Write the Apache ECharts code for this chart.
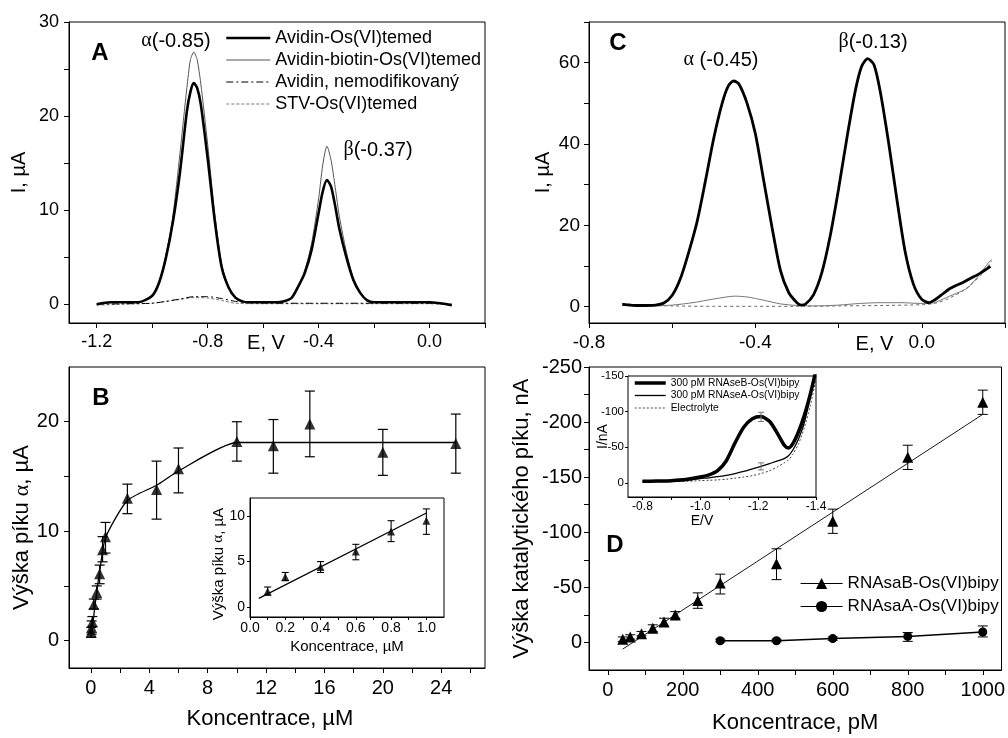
<!DOCTYPE html>
<html><head><meta charset="utf-8">
<script src="https://cdn.jsdelivr.net/npm/echarts@6/dist/echarts.min.js"></script>
<style>html,body{margin:0;padding:0;background:#fff}#c{width:1008px;height:738px}</style>
</head><body><div id="c"></div>
<script>
// ---------- Panel A : DPV curves ----------
const aE      = [-1.2,-1.15,-1.1,-1.05,-1.0,-0.975,-0.95,-0.925,-0.9,-0.875,-0.862,-0.85,-0.838,-0.825,-0.8,-0.775,-0.75,-0.725,-0.7,-0.675,-0.65,-0.6,-0.55,-0.5,-0.475,-0.45,-0.425,-0.4,-0.385,-0.37,-0.355,-0.34,-0.325,-0.3,-0.275,-0.25,-0.225,-0.2,-0.1,0.0,0.08];
const aThick  = [0.0,0.2,0.2,0.2,0.9,2.3,5.0,8.8,14.0,20.5,22.6,23.5,23.0,21.3,15.5,9.0,4.0,1.8,0.7,0.3,0.2,0.2,0.2,0.6,1.8,3.3,5.8,9.7,12.0,13.2,12.5,10.4,8.0,5.0,2.6,1.2,0.4,0.2,0.2,0.2,-0.1];
const aThin   = [0.0,0.2,0.2,0.2,0.9,2.4,5.3,9.5,16.0,23.0,26.0,26.8,26.0,23.5,17.0,9.8,4.3,1.9,0.7,0.3,0.2,0.2,0.2,0.6,1.9,3.6,6.5,11.2,14.8,16.8,15.3,12.4,9.3,5.6,2.8,1.3,0.4,0.2,0.2,0.2,-0.1];
const aDdE    = [-1.2,-1.1,-1.0,-0.95,-0.9,-0.85,-0.8,-0.75,-0.7,-0.65,-0.6,-0.5,-0.4,-0.3,-0.2,-0.1,0.0,0.08];
const aDd     = [0.0,0.05,0.1,0.3,0.55,0.8,0.8,0.6,0.3,0.15,0.12,0.1,0.1,0.1,0.1,0.1,0.1,0.0];
const aDotE   = [-1.2,-1.1,-1.0,-0.95,-0.9,-0.85,-0.8,-0.75,-0.7,-0.6,-0.4,-0.2,0.0,0.08];
const aDot    = [-0.1,0.0,0.1,0.3,0.5,0.7,0.65,0.4,0.1,0.05,0.05,0.05,0.05,-0.1];
const aNames  = ['Avidin-Os(VI)temed','Avidin-biotin-Os(VI)temed','Avidin, nemodifikovaný','STV-Os(VI)temed'];
const aXLabels = [-1.2,-0.8,-0.4,0.0];
const aXTicks  = [-1.2,-1.0,-0.8,-0.6,-0.4,-0.2,0.0,0.2];
const aYLabels = [0,10,20,30];
const aYTicks  = [0,5,10,15,20,25,30];

// ---------- Panel B : calibration ----------
const bConc  = [0.02,0.05,0.1,0.2,0.4,0.6,0.8,1.0,2.5,4.5,6,10,12.5,15,20,25];
const bPeak  = [0.8,1.2,1.7,3.3,4.4,6.1,8.3,9.5,13.0,13.8,15.7,18.2,17.8,19.8,17.2,18.0];
const bLo    = [0.3,0.6,1.3,2.9,3.8,5.2,7.2,8.0,11.6,11.1,13.5,16.4,15.3,16.8,15.1,15.3];
const bHi    = [1.2,1.8,2.2,3.8,5.0,6.9,9.5,10.8,14.3,16.4,17.6,20.0,20.2,22.8,19.3,20.7];
const bFitX  = [0.05,0.3,0.6,1.0,2.5,4.5,6,10,25];
const bFitY  = [0.6,3.4,6.3,9.4,12.8,14.2,15.5,18.1,18.1];
const bXLabels = [0,4,8,12,16,20,24];
const bXTicks  = [0,2,4,6,8,10,12,14,16,18,20,22,24,26];
const bYLabels = [0,10,20];
const bYTicks  = [0,5,10,15,20];
// inset B
const biConc = [0.1,0.2,0.4,0.6,0.8,1.0];
const biPeak = [1.7,3.3,4.4,6.1,8.3,9.5];
const biLo   = [1.3,2.9,3.8,5.2,7.2,8.0];
const biHi   = [2.2,3.8,5.0,6.9,9.5,10.8];
const biFitX = [0.05,1.0];
const biFitY = [0.95,10.35];
const biXLabels = [0,0.2,0.4,0.6,0.8,1.0];
const biXTicks  = [0,0.1,0.2,0.3,0.4,0.5,0.6,0.7,0.8,0.9,1.0];
const biYLabels = [0,5,10];

// ---------- Panel C ----------
const cE     = [-0.72,-0.68,-0.64,-0.62,-0.6,-0.58,-0.56,-0.54,-0.52,-0.5,-0.48,-0.465,-0.452,-0.44,-0.42,-0.4,-0.38,-0.36,-0.34,-0.32,-0.3,-0.29,-0.28,-0.26,-0.24,-0.22,-0.2,-0.18,-0.16,-0.145,-0.13,-0.115,-0.1,-0.08,-0.06,-0.04,-0.02,0.0,0.018,0.03,0.046,0.065,0.082,0.1,0.114,0.14,0.165];
const cThick = [0.6,0.3,0.4,0.9,2.8,7.0,13.5,21,31,41.5,50,54.3,55.5,54.8,50,42.5,31,19.5,9,3.5,1.0,0.4,0.6,3.0,8.5,17.5,29,41.5,53,59,61,59.5,53,40.5,26.5,13.5,5.5,1.8,1.0,1.6,2.8,4.3,5.2,6.0,6.8,8.2,9.9];
const cThinE = [-0.72,-0.65,-0.6,-0.55,-0.5,-0.45,-0.42,-0.38,-0.34,-0.3,-0.25,-0.2,-0.15,-0.1,-0.05,0.0,0.03,0.06,0.09,0.11,0.138,0.16,0.168];
const cThin  = [0.3,0.2,0.4,1.0,1.9,2.6,2.4,1.6,0.7,0.3,0.2,0.4,0.8,1.0,1.0,0.8,1.0,2.3,3.6,4.6,7.8,10.8,11.6];
const cDashE = [-0.72,-0.68,-0.6,-0.5,-0.4,-0.3,-0.2,-0.1,0.0,0.03,0.06,0.1,0.14,0.168];
const cDash  = [0.8,0.4,0.2,0.1,0.1,0.1,0.2,0.3,0.5,0.8,1.8,4.0,7.5,11.3];
const cXLabels = [-0.8,-0.4,0.0];
const cXTicks  = [-0.8,-0.6,-0.4,-0.2,0.0,0.2];
const cYLabels = [0,20,40,60];
const cYTicks  = [0,10,20,30,40,50,60,70];

// ---------- Panel D ----------
const dConcB = [40,60,90,120,150,180,240,300,450,600,800,1000];
const dPeakB = [-3,-5,-8,-13,-18.5,-25,-38,-54,-71.5,-110,-168,-218];
const dLoB   = [-1,-3,-6,-10,-15,-22,-31,-44,-57,-99,-157,-207];
const dHiB   = [-5,-7,-10,-16,-22,-28,-45,-62,-85,-121,-179,-229];
const dFitX  = [40,1000];
const dFitY  = [6,-207];
const dConcA = [300,450,600,800,1000];
const dPeakA = [-1.5,-1.5,-3.5,-5.5,-9.5];
const dLoA   = [-0.5,-0.5,-2,-1,-5];
const dHiA   = [-3,-3,-5,-9,-15];
const dNames = ['RNAsaB-Os(VI)bipy','RNAsaA-Os(VI)bipy'];
const dXLabels = [0,200,400,600,800,1000];
const dXTicks  = [0,100,200,300,400,500,600,700,800,900,1000];
const dYLabels = [-250,-200,-150,-100,-50,0];
const dYTicks  = [-250,-225,-200,-175,-150,-125,-100,-75,-50,-25,0];
// inset D
const diE  = [-0.8,-0.85,-0.9,-0.95,-1.0,-1.03,-1.06,-1.09,-1.12,-1.15,-1.18,-1.21,-1.24,-1.27,-1.29,-1.305,-1.32,-1.34,-1.36,-1.38,-1.4];
const diB  = [-2,-2.5,-3,-4.5,-8,-11,-17,-31,-56,-78,-90,-93,-86,-67,-53,-49,-55,-72,-95,-124,-158];
const diA  = [-2,-2.2,-2.5,-3.5,-6,-7,-8.5,-10.5,-13,-16,-19.5,-23,-27,-31,-34,-38,-46,-62,-85,-120,-158];
const diEl = [-1,-1.2,-1.5,-2,-3,-3.5,-4,-5,-6.5,-8,-10,-13,-17,-23,-28,-32,-40,-55,-78,-108,-145];
const diErrE  = [-1.21,-1.21];
const diErrLo = [-86,-18];
const diErrHi = [-99,-28];
const diNames = ['300 pM RNAseB-Os(VI)bipy','300 pM RNAseA-Os(VI)bipy','Electrolyte'];
const diXLabels = [-1.4,-1.2,-1.0,-0.8];
const diXTicks  = [-1.4,-1.3,-1.2,-1.1,-1.0,-0.9,-0.8];
const diYLabels = [-150,-100,-50,0];

// ---------- helpers ----------
const FF = "'Liberation Sans', Arial, sans-serif";
const zip = (xs, ys) => xs.map((x, i) => [x, ys[i]]);
const f1 = v => Number(v).toFixed(1);
const f0 = v => String(v);

function axis(gi, min, max, labels, ticks, fs, margin, extra) {
  return Object.assign({
    type: 'value', gridIndex: gi, min: min, max: max, nameMoveOverlap: false,
    axisLine: {show: true, onZero: false, lineStyle: {color: '#000', width: 1}},
    axisTick: {show: true, inside: false, length: 5, customValues: ticks, lineStyle: {color: '#000', width: 1}},
    axisLabel: {show: true, customValues: labels, color: '#000', fontSize: fs, fontFamily: FF, margin: margin, formatter: f0},
    splitLine: {show: false},
    nameTextStyle: {color: '#000', fontFamily: FF}
  }, extra || {});
}
function line(name, gi, xs, ys, width, color, type, extra) {
  return Object.assign({
    name: name, type: 'line', xAxisIndex: gi, yAxisIndex: gi, data: zip(xs, ys),
    symbol: 'none', smooth: 0.25, animation: false, silent: true,
    lineStyle: {width: width, color: color, type: type || 'solid'}, itemStyle: {color: color}, z: 2
  }, extra || {});
}
function errs(gi, xs, lo, hi, cap, color, lw) {
  return {
    type: 'custom', xAxisIndex: gi, yAxisIndex: gi, silent: true, animation: false, z: 3,
    data: xs.map((x, i) => [x, lo[i], hi[i]]), encode: {x: 0, y: [1, 2]},
    renderItem: function (p, api) {
      const a = api.coord([api.value(0), api.value(1)]);
      const b = api.coord([api.value(0), api.value(2)]);
      const st = {stroke: color, lineWidth: lw};
      return {type: 'group', children: [
        {type: 'line', shape: {x1: a[0], y1: a[1], x2: b[0], y2: b[1]}, style: st},
        {type: 'line', shape: {x1: a[0] - cap, y1: a[1], x2: a[0] + cap, y2: a[1]}, style: st},
        {type: 'line', shape: {x1: b[0] - cap, y1: b[1], x2: b[0] + cap, y2: b[1]}, style: st}
      ]};
    }
  };
}
function txt(x, y, text, size, bold, rich) {
  return {type: 'text', x: x, y: y, z: 50, silent: true,
    style: {text: text, fill: '#000', fontSize: size, fontFamily: 'Liberation Sans', fontWeight: bold ? 'bold' : 'normal',
      align: 'center', verticalAlign: 'middle', textAlign: 'center', textVerticalAlign: 'middle',
      rich: rich ? {a: {fontFamily: 'Liberation Serif', fontSize: size, fill: '#000'}} : undefined}};
}
const gridBox = {show: true, borderColor: '#000', borderWidth: 1, backgroundColor: '#fff', containLabel: false};
const alphaRich = fs => ({a: {fontFamily: 'Liberation Serif', fontSize: fs, color: '#000'}});
const hideSym = {opacity: 0, color: 'rgba(0,0,0,0)', borderWidth: 0};

const option = {
  backgroundColor: '#fff',
  animation: false,
  grid: [
    Object.assign({left: 69, top: 22, width: 416, height: 301}, gridBox),
    Object.assign({left: 69, top: 367, width: 416, height: 301}, gridBox),
    Object.assign({left: 250, top: 498, width: 194, height: 119}, gridBox),
    Object.assign({left: 589, top: 22, width: 416, height: 301}, gridBox),
    Object.assign({left: 589, top: 367, width: 413, height: 303}, gridBox),
    Object.assign({left: 628, top: 376, width: 188, height: 121}, gridBox, {z: 10})
  ],
  xAxis: [
    axis(0, -1.3, 0.2, aXLabels, aXTicks, 18, 10, {name: 'E, V', nameLocation: 'middle', nameGap: 10,
      axisLabel: {customValues: aXLabels, color: '#000', fontSize: 18, fontFamily: FF, margin: 10, formatter: f1},
      nameTextStyle: {fontSize: 20, fontFamily: FF, color: '#000', padding: [0, 22, 0, 0]}}),
    axis(1, -1.5, 27, bXLabels, bXTicks, 20, 10, {name: 'Koncentrace, µM', nameLocation: 'middle', nameGap: 40,
      nameTextStyle: {fontSize: 22, fontFamily: FF, color: '#000', padding: [0, 14, 0, 0]}}),
    axis(2, 0, 1.1, biXLabels, biXTicks, 14, 4, {name: 'Koncentrace, µM', nameLocation: 'middle', nameGap: 22,
      axisTick: {show: true, length: 3, customValues: biXTicks, lineStyle: {color: '#000'}},
      axisLabel: {customValues: biXLabels, color: '#000', fontSize: 14, fontFamily: FF, margin: 4, formatter: f1},
      nameTextStyle: {fontSize: 15, fontFamily: FF, color: '#000'}}),
    axis(3, -0.8, 0.2, cXLabels, cXTicks, 19, 10, {name: 'E, V', nameLocation: 'middle', nameGap: 11,
      axisLabel: {customValues: cXLabels, color: '#000', fontSize: 19, fontFamily: FF, margin: 10, formatter: f1},
      nameTextStyle: {fontSize: 20, fontFamily: FF, color: '#000', padding: [0, 0, 0, 155]}}),
    axis(4, -50, 1050, dXLabels, dXTicks, 20, 10, {name: 'Koncentrace, pM', nameLocation: 'middle', nameGap: 42,
      nameTextStyle: {fontSize: 22, fontFamily: FF, color: '#000'}}),
    axis(5, -1.4, -0.75, diXLabels, diXTicks, 12, 4, {inverse: true, name: 'E/V', nameLocation: 'middle', nameGap: 17,
      axisTick: {show: true, length: 3, customValues: diXTicks, lineStyle: {color: '#000'}},
      axisLabel: {customValues: diXLabels, color: '#000', fontSize: 12, fontFamily: FF, margin: 4, formatter: f1},
      nameTextStyle: {fontSize: 14, fontFamily: FF, color: '#000', padding: [0, 40, 0, 0]}})
  ],
  yAxis: [
    axis(0, -2, 30, aYLabels, aYTicks, 18, 10, {name: 'I, µA', nameLocation: 'middle', nameGap: 40,
      nameTextStyle: {fontSize: 20, fontFamily: FF, color: '#000'}}),
    axis(1, -2.5, 25, bYLabels, bYTicks, 20, 10, {name: 'Výška píku {a|α}, µA', nameLocation: 'middle', nameGap: 36,
      nameTextStyle: {fontSize: 22, fontFamily: FF, color: '#000', padding: [0, 20, 0, 0], rich: alphaRich(22)}}),
    axis(2, -1.1, 12, biYLabels, biYLabels, 14, 5, {name: 'Výška píku {a|α}, µA', nameLocation: 'middle', nameGap: 24,
      axisTick: {show: true, length: 3, customValues: biYLabels, lineStyle: {color: '#000'}},
      nameTextStyle: {fontSize: 15, fontFamily: FF, color: '#000', padding: [0, 13, 0, 0], rich: alphaRich(15)}}),
    axis(3, -4, 70, cYLabels, cYTicks, 19, 9, {name: 'I, µA', nameLocation: 'middle', nameGap: 36,
      nameTextStyle: {fontSize: 20, fontFamily: FF, color: '#000'}}),
    axis(4, -250, 25, dYLabels, dYTicks, 20, 7, {inverse: true, name: 'Výška katalytického píku, nA', nameLocation: 'middle', nameGap: 56,
      nameTextStyle: {fontSize: 22, fontFamily: FF, color: '#000'}}),
    axis(5, -150, 20, diYLabels, diYLabels, 11.5, 4, {inverse: true, name: 'I/nA', nameLocation: 'middle', nameGap: 18,
      axisTick: {show: true, length: 3, customValues: diYLabels, lineStyle: {color: '#000'}},
      nameTextStyle: {fontSize: 14, fontFamily: FF, color: '#000'}})
  ],
  legend: [
    {orient: 'vertical', left: 220, top: 24, itemWidth: 44, itemHeight: 12, itemGap: 4, selectedMode: false,
      itemStyle: hideSym, lineStyle: {width: 'inherit'},
      textStyle: {fontSize: 18, fontFamily: FF, color: '#000'}, data: aNames},
    {orient: 'vertical', left: 795, top: 570, itemWidth: 42, itemHeight: 14, itemGap: 6, selectedMode: false,
      lineStyle: {color: '#000', width: 1.2, opacity: 1, type: 'solid'},
      textStyle: {fontSize: 17, fontFamily: FF, color: '#000'}, data: dNames},
    {orient: 'vertical', left: 628, top: 373, itemWidth: 31, itemHeight: 8, itemGap: 2.5, selectedMode: false, z: 20,
      itemStyle: hideSym, lineStyle: {width: 'inherit'},
      textStyle: {fontSize: 10.3, fontFamily: FF, color: '#000'}, data: diNames}
  ],
  series: [
    // A
    line(aNames[3], 0, aDotE, aDot, 1, '#777', [3, 2]),
    line(aNames[2], 0, aDdE, aDd, 1, '#000', [7, 3, 2, 3]),
    line(aNames[1], 0, aE, aThin, 1, '#555'),
    line(aNames[0], 0, aE, aThick, 2.6, '#000'),
    // B main
    line('fitB', 1, bFitX, bFitY, 1.3, '#000', 'solid', {smooth: 0.2}),
    errs(1, bConc, bLo, bHi, 5, '#000', 1.2),
    {type: 'scatter', xAxisIndex: 1, yAxisIndex: 1, data: zip(bConc, bPeak), symbol: 'triangle', symbolSize: 11,
      itemStyle: {color: '#000'}, z: 4, silent: true, animation: false},
    // B inset
    line('fitBi', 2, biFitX, biFitY, 1.2, '#000', 'solid', {smooth: false}),
    errs(2, biConc, biLo, biHi, 3.5, '#000', 1.1),
    {type: 'scatter', xAxisIndex: 2, yAxisIndex: 2, data: zip(biConc, biPeak), symbol: 'triangle', symbolSize: 8,
      itemStyle: {color: '#000'}, z: 4, silent: true, animation: false},
    // C
    line('cDash', 3, cDashE, cDash, 1, '#666', [3, 3]),
    line('cThin', 3, cThinE, cThin, 1, '#777'),
    line('cThick', 3, cE, cThick, 2.8, '#000'),
    // D
    line('fitD', 4, dFitX, dFitY, 0.9, '#000', 'solid', {smooth: false}),
    errs(4, dConcB, dLoB, dHiB, 5, '#000', 1),
    errs(4, dConcA, dLoA, dHiA, 5, '#000', 1),
    line(dNames[0], 4, dConcB, dPeakB, 1, '#000', 'solid', {symbol: 'triangle', symbolSize: 11, showSymbol: true, smooth: false,
      lineStyle: {opacity: 0, width: 0}, z: 4}),
    line(dNames[1], 4, dConcA, dPeakA, 1.5, '#000', 'solid', {symbol: 'circle', symbolSize: 9, showSymbol: true, smooth: false, z: 4}),
    // D inset
    line(diNames[2], 5, diE, diEl, 1, '#444', [2, 2], {z: 12}),
    line(diNames[1], 5, diE, diA, 1.3, '#000', 'solid', {z: 12}),
    line(diNames[0], 5, diE, diB, 3.5, '#000', 'solid', {z: 12}),
    Object.assign(errs(5, diErrE, diErrLo, diErrHi, 3, '#777', 1), {z: 13})
  ],
  graphic: [
    txt(100, 53, 'A', 24, true),
    txt(101, 398, 'B', 24, true),
    txt(618, 43, 'C', 24, true),
    txt(615, 545, 'D', 24, true),
    txt(176, 41, '{a|α}(-0.85)', 20, false, true),
    txt(378, 150, '{a|β}(-0.37)', 20, false, true),
    txt(721, 60, '{a|α} (-0.45)', 20, false, true),
    txt(873, 42, '{a|β}(-0.13)', 20, false, true)
  ]
};
const chart = echarts.init(document.getElementById('c'), null, {renderer: 'canvas'});
chart.setOption(option);
</script></body></html>
